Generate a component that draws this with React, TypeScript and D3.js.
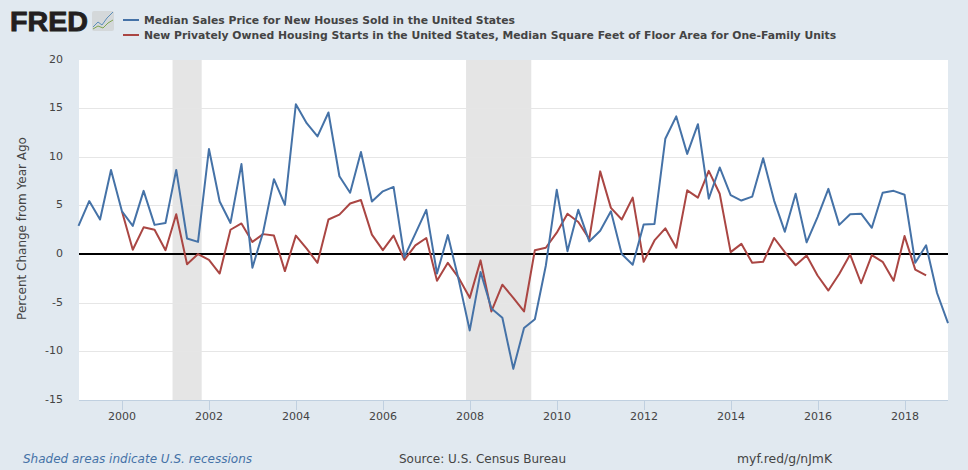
import React from "react";
import * as d3 from "d3";

const W = 968, H = 470;
const priceValues = [2.9,5.45,3.55,8.65,4.4,2.9,6.5,3.0,3.2,8.65,1.6,1.25,10.8,5.4,3.2,9.25,-1.4,2.25,7.7,5.05,15.4,13.45,12.1,14.55,8.0,6.3,10.5,5.4,6.45,6.9,-0.3,2.1,4.55,-2.0,1.95,-2.7,-7.85,-1.85,-5.6,-6.55,-11.8,-7.6,-6.7,-1.2,6.6,0.3,4.55,1.3,2.4,4.4,0,-1.1,3.05,3.1,11.85,14.15,10.3,13.35,5.7,8.9,6.05,5.5,5.9,9.85,5.5,2.3,6.2,1.2,3.8,6.7,3.0,4.1,4.15,2.7,6.3,6.5,6.1,-0.9,0.9,-4.0,-7.1];
const floorAreaValues = [4.4,0.45,2.75,2.5,0.4,4.1,-1.05,0,-0.6,-2.0,2.5,3.15,1.25,2.05,1.9,-1.75,1.9,0.55,-0.9,3.55,4.05,5.2,5.55,2.0,0.4,1.9,-0.6,0.9,1.65,-2.75,-0.9,-2.45,-4.5,-0.65,-5.9,-3.15,-4.5,-5.9,0.4,0.65,2.2,4.15,3.3,1.55,8.5,4.75,3.55,5.8,-0.8,1.4,2.65,0.65,6.55,5.8,8.55,6.2,0.2,1.05,-0.9,-0.8,1.65,0.2,-1.15,-0.15,-2.2,-3.75,-2.05,-0.05,-3.0,-0.1,-0.8,-2.75,1.85,-1.6,-2.2];
const priceStart = new Date(1999, 0, 1);
const floorAreaStart = new Date(2000, 0, 1);
const recessions: [Date, Date][] = [
  [new Date(2001, 2, 1), new Date(2001, 10, 1)],
  [new Date(2007, 11, 1), new Date(2009, 5, 1)],
];
const yTicks = [-15, -10, -5, 0, 5, 10, 15, 20];
const xTickYears = [2000, 2002, 2004, 2006, 2008, 2010, 2012, 2014, 2016, 2018];
const legendLabels = [
  "Median Sales Price for New Houses Sold in the United States",
  "New Privately Owned Housing Starts in the United States, Median Square Feet of Floor Area for One-Family Units",
];
const BLUE = "#4572a7", RED = "#aa4643", TXT = "#444444";
const FONT = "'DejaVu Sans', sans-serif";

const x = d3.scaleTime().domain([new Date(1999, 0, 1), new Date(2019, 0, 1)]).range([78.5, 948]);
const y = d3.scaleLinear().domain([-15, 20]).range([400, 59.5]);
const toSeries = (start: Date, vals: number[]) =>
  vals.map((v, i) => ({ d: d3.timeMonth.offset(start, i * 3), v }));
const line = d3.line<{ d: Date; v: number }>().x(p => x(p.d)).y(p => y(p.v));
const priceSeries = toSeries(priceStart, priceValues);
const floorSeries = toSeries(floorAreaStart, floorAreaValues);

export default function App() {
  return (
    <svg width={W} height={H} viewBox={`0 0 ${W} ${H}`} style={{ position: "absolute", left: 0, top: 0, fontFamily: FONT }}>
      <rect width={W} height={H} fill="#e1e9f0" />
      <rect x={79} y={60} width={869} height={340} fill="#ffffff" />
      {recessions.map(([a, b], i) => (
        <rect key={i} x={x(a)} y={60} width={x(b) - x(a)} height={340} fill="#e5e5e5" />
      ))}
      {yTicks.filter(t => t !== 0 && t !== 20 && t !== -15).map(t => (
        <line key={t} x1={79} x2={948} y1={Math.round(y(t)) + 0.5} y2={Math.round(y(t)) + 0.5} stroke="#e6e6e6" strokeWidth={1} />
      ))}
      <line x1={79} x2={948} y1={400.5} y2={400.5} stroke="#c0d0e0" />
      {xTickYears.map(yr => {
        const px = Math.round(x(new Date(yr, 0, 1))) + 0.5;
        return (
          <g key={yr}>
            <line x1={px} x2={px} y1={400} y2={410} stroke="#c0d0e0" />
            <text x={px - 0.5} y={420} textAnchor="middle" fontSize={11} fill={TXT}>{yr}</text>
          </g>
        );
      })}
      {yTicks.map(t => (
        <text key={t} x={63} y={y(t) + 3} textAnchor="end" fontSize={11} fill={TXT}>{t}</text>
      ))}
      <line x1={79} x2={948} y1={254} y2={254} stroke="#000000" strokeWidth={2} />
      <path d={line(floorSeries) ?? ""} fill="none" stroke={RED} strokeWidth={2} strokeLinejoin="round" />
      <path d={line(priceSeries) ?? ""} fill="none" stroke={BLUE} strokeWidth={2} strokeLinejoin="round" />
      <text transform="translate(26,228.5) rotate(-90)" textAnchor="middle" fontSize={12} fill={TXT}>Percent Change from Year Ago</text>

      <text x={10} y={31} fontFamily="'Liberation Sans', sans-serif" fontWeight={700} fontSize={28} fill="#231f20" textLength={78} lengthAdjust="spacingAndGlyphs" stroke="#231f20" strokeWidth={0.9}>FRED</text>
      <rect x={92} y={11} width={22} height={20} rx={2} fill="#d4d8da" />
      <polyline points="93,27 98,22 102,25 107,18 113,12" fill="none" stroke="#5b8db8" strokeWidth={1} />
      <polyline points="93,29 98,26 103,28 108,23 113,20" fill="none" stroke="#7fa650" strokeWidth={1} />

      {legendLabels.map((l, i) => {
        const ly = 20 + i * 15;
        return (
          <g key={i}>
            <line x1={123} x2={139} y1={ly} y2={ly} stroke={i === 0 ? BLUE : RED} strokeWidth={2} />
            <text x={144} y={ly + 4} fontSize={10.8} fontWeight={700} fill={TXT}>{l}</text>
          </g>
        );
      })}

      <text x={23} y={463} fontSize={12} fontStyle="italic" fill={BLUE}>Shaded areas indicate U.S. recessions</text>
      <text x={399} y={463} fontSize={12} fill={TXT}>Source: U.S. Census Bureau</text>
      <text x={737} y={463} fontSize={12.4} fill={TXT}>myf.red/g/nJmK</text>
    </svg>
  );
}
